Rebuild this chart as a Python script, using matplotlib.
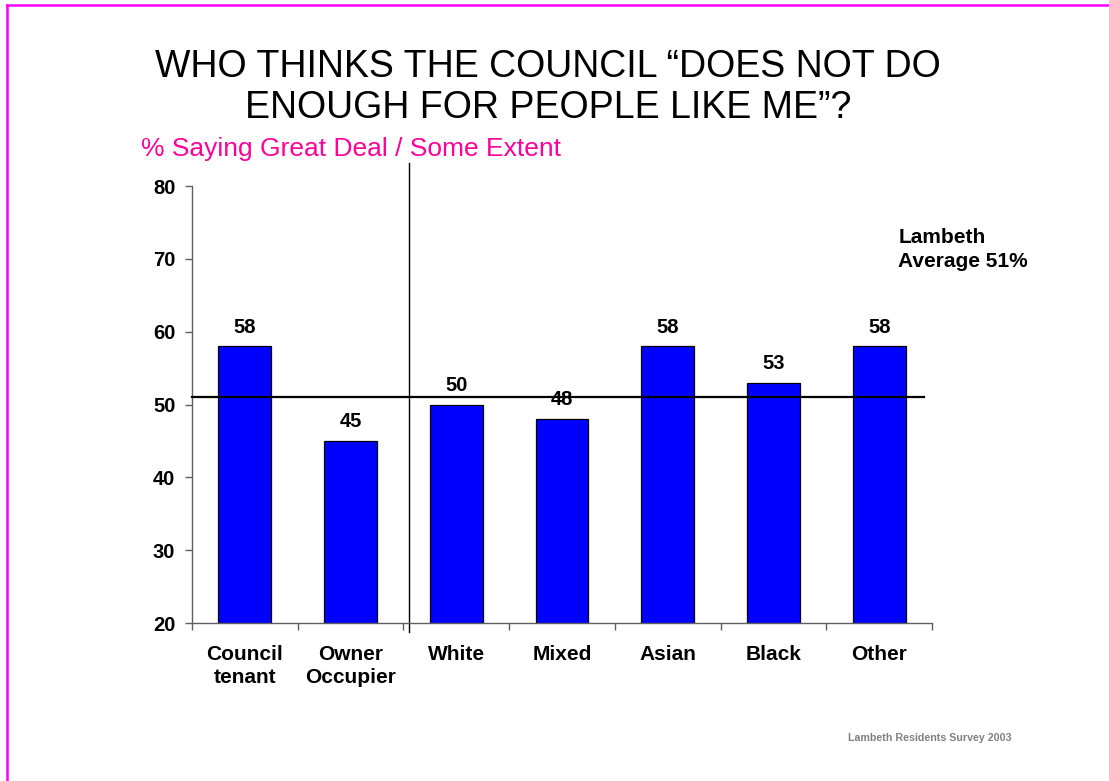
import numpy as np
import matplotlib.pyplot as plt
from matplotlib.lines import Line2D

# DADOS
categorias = ['Council\ntenant', 'Owner\nOccupier', 'White', 'Mixed', 'Asian', 'Black', 'Other']
valores = [58, 45, 50, 48, 58, 53, 58]
media_lambeth = 51
yticks = [20, 30, 40, 50, 60, 70, 80]

plt.rcParams['font.family'] = ['Liberation Sans', 'DejaVu Sans']

fig = plt.figure(figsize=(11.09, 7.81), dpi=100)
ax = fig.add_axes([0.1731, 0.2023, 0.6673, 0.5595])

x = np.arange(len(categorias))
ax.bar(x, valores, width=0.5, color='#0000FF', edgecolor='black', linewidth=0.9, zorder=2)

# rotulos das barras
for xi, v in zip(x, valores):
    ax.annotate(str(v), (xi, v), xytext=(0, 7), textcoords='offset points',
                ha='center', va='bottom', fontsize=14.5, fontweight='bold', zorder=4)

# linha da media
ax.plot([-0.5, 6.42], [media_lambeth, media_lambeth], color='black', lw=1.6, zorder=3, clip_on=False)
ax.text(6.18, 71.3, 'Lambeth\nAverage 51%', fontsize=15, fontweight='bold',
        ha='left', va='center', linespacing=1.3)

# separador posse / etnia
ax.add_line(Line2D([1.553, 1.553], [18.75, 83.2], color='black', lw=1.0, clip_on=False))

ax.set_xlim(-0.5, 6.5)
ax.set_ylim(20, 80)
ax.set_yticks(yticks)
ax.set_yticklabels([str(t) for t in yticks], fontsize=14.5, fontweight='bold')

ax.set_xticks(np.arange(-0.5, 7, 1))
ax.set_xticklabels([])
ax.set_xticks(x, minor=True)
ax.set_xticklabels(categorias, minor=True, fontsize=15, fontweight='bold', linespacing=1.25)
ax.tick_params(axis='x', which='minor', length=0, pad=16)
ax.tick_params(axis='x', which='major', length=5, color='#606060', width=1)
ax.tick_params(axis='y', length=5, color='#606060', width=1, pad=7)

for s in ['top', 'right']:
    ax.spines[s].set_visible(False)
for s in ['left', 'bottom']:
    ax.spines[s].set_color('#606060')
    ax.spines[s].set_linewidth(1)

# titulo e subtitulo
fig.text(0.494, 0.888, 'WHO THINKS THE COUNCIL \u201cDOES NOT DO\nENOUGH FOR PEOPLE LIKE ME\u201d?',
         ha='center', va='center', fontsize=27, linespacing=1.17)
fig.text(0.127, 0.809, '% Saying Great Deal / Some Extent', color='#FF0099',
         fontsize=19, ha='left', va='center')

fig.text(0.765, 0.055, 'Lambeth Residents Survey 2003', color='#808080',
         fontsize=7.7, fontweight='bold', ha='left', va='center')

# moldura
fig.add_artist(Line2D([0.0065, 0.0065], [0, 0.9935], color='#FF00FF', lw=1.8))
fig.add_artist(Line2D([0.0065, 1], [0.9935, 0.9935], color='#FF00FF', lw=1.8))

fig.savefig('out.png', dpi=100)
